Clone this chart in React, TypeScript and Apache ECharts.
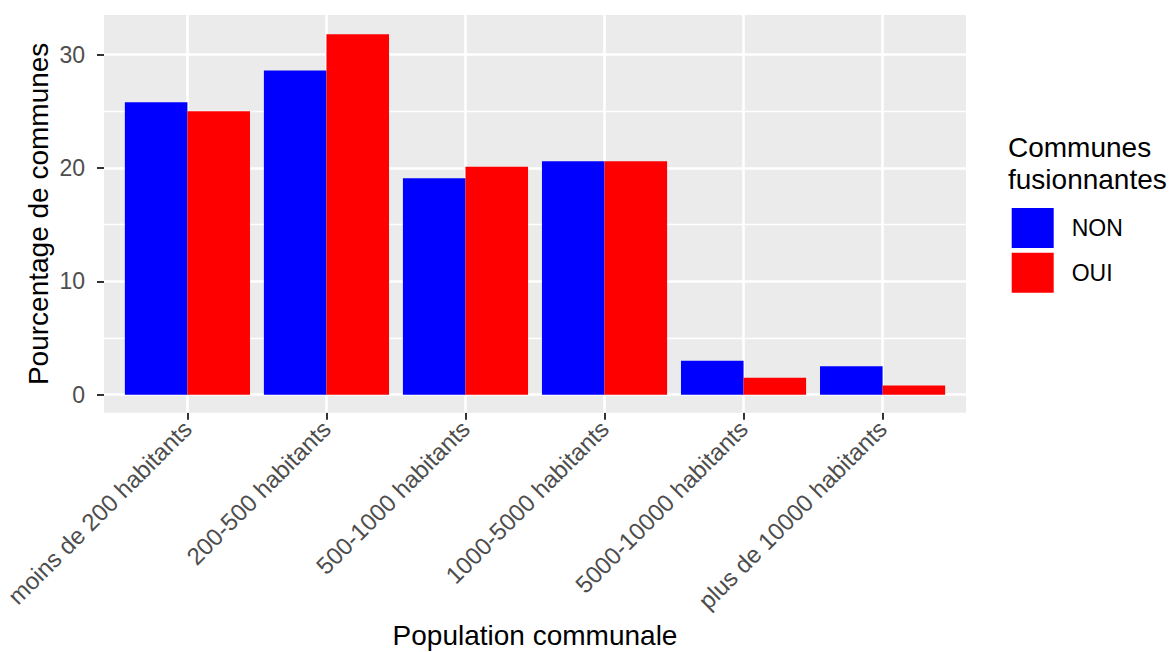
import React, { useEffect, useRef } from "react";
import * as echarts from "echarts";

const categories = [
  "moins de 200 habitants",
  "200-500 habitants",
  "500-1000 habitants",
  "1000-5000 habitants",
  "5000-10000 habitants",
  "plus de 10000 habitants",
];
const seriesNames = ["NON", "OUI"];
const nonValues = [25.8, 28.6, 19.1, 20.6, 3.0, 2.5];
const ouiValues = [25.0, 31.8, 20.1, 20.6, 1.5, 0.8];
const majorYTicks = [0, 10, 20, 30];
const minorYTicks = [5, 15, 25];
const yMin = -1.59;
const yMax = 33.5;

const FONT = "Liberation Sans";

export default function App() {
  const ref = useRef<HTMLDivElement>(null);
  useEffect(() => {
    if (!ref.current) return;
    const chart = echarts.init(ref.current, null, { renderer: "svg" });
    const panelLeft = 104;
    const panelRight = 966;
    const panelTop = 15;
    const panelBottom = 412.7;
    const unit = (panelRight - panelLeft) / (categories.length - 1 + 1.2);
    const barsLeft = panelLeft + unit * 0.1;
    const barsWidth = unit * categories.length;

    const gridLines: any[] = [];
    majorYTicks.forEach((v) =>
      gridLines.push({ yAxis: v, lineStyle: { width: 2.6 } })
    );
    minorYTicks.forEach((v) =>
      gridLines.push({ yAxis: v, lineStyle: { width: 1.3 } })
    );
    categories.forEach((_, i) =>
      gridLines.push({ xAxis: i + 1, lineStyle: { width: 2.6 } })
    );

    chart.setOption({
      animation: false,
      textStyle: { fontFamily: FONT },
      title: {
        text: "Communes\nfusionnantes",
        left: 1008,
        top: 131,
        padding: 0,
        textStyle: {
          fontFamily: FONT,
          fontSize: 28,
          lineHeight: 32,
          fontWeight: "normal",
          color: "#000000",
        },
      },
      legend: {
        data: seriesNames,
        orient: "vertical",
        left: 1011.7,
        top: 208,
        itemWidth: 42,
        itemHeight: 40,
        itemGap: 4.7,
        icon: "rect",
        padding: 0,
        textStyle: {
          fontFamily: FONT,
          fontSize: 23,
          color: "#000000",
          padding: [0, 0, 0, 13],
        },
      },
      grid: [
        {
          left: barsLeft,
          top: panelTop,
          width: barsWidth,
          height: panelBottom - panelTop,
          containLabel: false,
          outerBoundsMode: "none",
        },
        {
          left: panelLeft,
          top: panelTop,
          width: panelRight - panelLeft,
          height: panelBottom - panelTop,
          show: true,
          backgroundColor: "#EBEBEB",
          borderWidth: 0,
          containLabel: false,
          outerBoundsMode: "none",
          z: 0,
        },
      ],
      xAxis: [
        {
          gridIndex: 0,
          type: "category",
          data: categories,
          axisLine: { show: false, onZero: false },
          axisTick: {
            show: true,
            alignWithLabel: true,
            length: 7,
            lineStyle: { color: "#333333", width: 2 },
          },
          axisLabel: {
            rotate: 45,
            interval: 0,
            fontSize: 24,
            color: "#4D4D4D",
            fontFamily: FONT,
            margin: 12,
            align: "right",
            verticalAlign: "middle",
            padding: [11, 0, 0, 0],
          },
          splitLine: { show: false },
          name: "Population communale",
          nameLocation: "middle",
          nameGap: 211,
          nameMoveOverlap: false,
          nameTextStyle: {
            fontSize: 28,
            lineHeight: 24,
            color: "#000000",
            fontFamily: FONT,
          },
        },
        {
          gridIndex: 1,
          type: "value",
          min: 0.4,
          max: categories.length + 0.6,
          show: false,
        },
      ],
      yAxis: [
        {
          gridIndex: 0,
          type: "value",
          min: yMin,
          max: yMax,
          offset: barsLeft - panelLeft,
          axisLine: { show: false },
          axisTick: {
            show: true,
            customValues: majorYTicks,
            length: 7,
            lineStyle: { color: "#333333", width: 2 },
          },
          axisLabel: {
            customValues: majorYTicks,
            fontSize: 23,
            color: "#4D4D4D",
            fontFamily: FONT,
            margin: 19,
          },
          splitLine: { show: false },
          name: "Pourcentage de communes",
          nameLocation: "middle",
          nameGap: 52,
          nameMoveOverlap: false,
          nameTextStyle: { fontSize: 28, color: "#000000", fontFamily: FONT },
        },
        {
          gridIndex: 1,
          type: "value",
          min: yMin,
          max: yMax,
          show: false,
        },
      ],
      series: [
        {
          type: "scatter",
          xAxisIndex: 1,
          yAxisIndex: 1,
          data: [],
          silent: true,
          markLine: {
            silent: true,
            symbol: "none",
            z: 1,
            label: { show: false },
            lineStyle: { color: "#FFFFFF", type: "solid" },
            emphasis: { disabled: true },
            data: gridLines,
          },
        },
        {
          name: seriesNames[0],
          type: "bar",
          xAxisIndex: 0,
          yAxisIndex: 0,
          data: nonValues,
          barGap: "0%",
          barCategoryGap: "10%",
          itemStyle: { color: "#0000FF" },
          z: 3,
        },
        {
          name: seriesNames[1],
          type: "bar",
          xAxisIndex: 0,
          yAxisIndex: 0,
          data: ouiValues,
          barGap: "0%",
          barCategoryGap: "10%",
          itemStyle: { color: "#FF0000" },
          z: 3,
        },
      ],
    });
    return () => chart.dispose();
  }, []);
  return (
    <div
      ref={ref}
      style={{ position: "absolute", left: 0, top: 0, width: 1173, height: 652 }}
    />
  );
}
